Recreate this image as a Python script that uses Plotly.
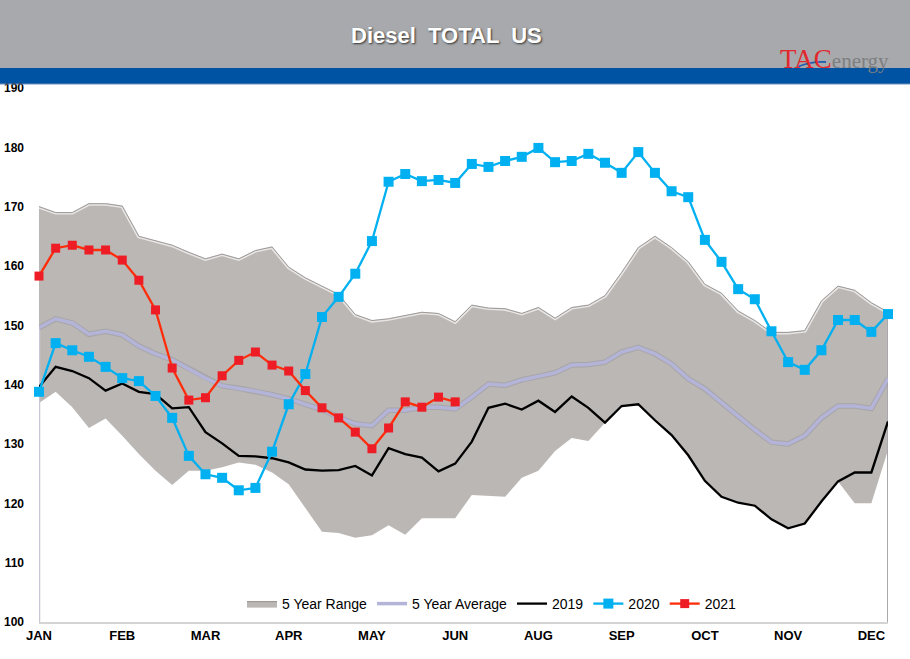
import plotly.graph_objects as go

# ---------------- data ----------------
weeks = list(range(52))
month_ticks = [0, 5, 10, 15, 20, 25, 30, 35, 40, 45, 50]
month_labels = ["JAN", "FEB", "MAR", "APR", "MAY", "JUN", "AUG", "SEP", "OCT", "NOV", "DEC"]
y_ticks = [100, 110, 120, 130, 140, 150, 160, 170, 180, 190]

y2019 = [139.6, 143.0, 142.3, 141.1, 139.0, 140.2, 138.8, 138.4, 136.0, 136.2,
         132.0, 130.1, 128.0, 127.9, 127.6, 126.9, 125.7, 125.5, 125.6, 126.3,
         124.7, 129.3, 128.3, 127.7, 125.4, 126.7, 130.4, 136.1, 136.8, 135.8,
         137.3, 135.4, 138.0, 136.1, 133.6, 136.4, 136.7, 134.0, 131.5, 128.1,
         123.8, 121.1, 120.1, 119.6, 117.3, 115.8, 116.6, 120.3, 123.7, 125.2,
         125.2, 133.8]

y2020 = [138.8, 147.0, 145.8, 144.7, 143.0, 141.1, 140.6, 138.1, 134.4, 128.0,
         124.9, 124.3, 122.2, 122.6, 128.7, 136.7, 141.8, 151.4, 154.8, 158.7,
         164.2, 174.2, 175.5, 174.3, 174.5, 174.0, 177.2, 176.7, 177.7, 178.4,
         179.9, 177.5, 177.7, 178.9, 177.4, 175.7, 179.2, 175.7, 172.6, 171.6,
         164.4, 160.7, 156.1, 154.4, 149.0, 143.8, 142.5, 145.8, 150.9, 150.9,
         148.9, 151.9]

y2021 = [158.3, 163.0, 163.5, 162.7, 162.7, 161.0, 157.6, 152.6, 142.8, 137.4,
         137.8, 141.5, 144.1, 145.5, 143.3, 142.3, 139.0, 136.1, 134.4, 132.0,
         129.2, 132.7, 137.1, 136.2, 137.9, 137.1]

avg5 = [149.6, 151.1, 150.4, 148.5, 149.0, 148.4, 146.5, 145.2, 144.2, 142.7,
        141.1, 139.8, 139.4, 138.9, 138.3, 137.6, 136.7, 135.8, 134.5, 133.4,
        133.1, 135.7, 135.7, 136.2, 136.2, 135.9, 137.9, 140.1, 139.9, 140.8,
        141.4, 142.0, 143.3, 143.4, 143.8, 145.5, 146.3, 145.2, 143.5, 141.0,
        139.3, 137.0, 134.6, 132.4, 130.3, 130.0, 131.4, 134.4, 136.4, 136.4,
        136.0, 141.0]

range_max = [170.0, 169.0, 169.0, 170.5, 170.5, 170.1, 165.0, 164.2, 163.5, 162.3,
             161.2, 162.0, 161.2, 162.6, 163.2, 159.8, 158.0, 156.6, 155.2, 151.8,
             150.8, 151.1, 151.7, 152.2, 152.0, 150.6, 153.4, 152.9, 152.8, 152.0,
             153.0, 151.2, 153.0, 153.4, 155.0, 158.9, 163.1, 165.0, 163.1, 160.7,
             156.9, 155.4, 152.4, 150.8, 148.8, 148.8, 149.1, 154.1, 156.6, 155.9,
             153.8, 152.2]

range_min = [136.9, 138.8, 136.2, 132.7, 134.3, 131.4, 128.3, 125.5, 123.1, 125.5,
             125.5, 126.1, 126.9, 126.5, 125.2, 123.2, 119.2, 115.2, 115.0, 114.2,
             114.6, 116.3, 114.7, 117.5, 117.5, 117.5, 121.4, 121.3, 121.1, 124.3,
             125.5, 128.8, 131.0, 130.5, 133.6, 136.4, 136.7, 134.0, 131.5, 128.1,
             123.8, 121.1, 120.1, 119.6, 117.3, 115.8, 116.6, 120.3, 123.7, 120.0,
             120.0, 129.0]

# ---------------- geometry helpers (pixel -> paper) ----------------
W, H = 910, 659
L, R, T, B = 39, 22, 88, 37
PW, PH = W - L - R, H - T - B


def px_x(p):
    return (p - L) / PW


def px_y(p):
    return (H - B - p) / PH


fig = go.Figure()

# 5 year range (stacked band)
fig.add_trace(go.Scatter(x=weeks, y=range_min, mode="lines", line=dict(width=0, color="rgba(0,0,0,0)"),
                         showlegend=False, hoverinfo="skip"))
fig.add_trace(go.Scatter(x=weeks, y=range_max, mode="lines", fill="tonexty", fillcolor="#bbb7b5",
                         line=dict(width=1.2, color="#9e9a98"), name="5 Year Range"))
fig.add_trace(go.Scatter(x=weeks, y=range_max, mode="lines", line=dict(width=4, color="rgba(255,255,255,0.65)"),
                         showlegend=False, hoverinfo="skip"))
fig.add_trace(go.Scatter(x=weeks, y=range_max, mode="lines", line=dict(width=1, color="#9e9a98"),
                         showlegend=False, hoverinfo="skip"))

# edge lines of the band down to the axis
fig.add_trace(go.Scatter(x=[weeks[0], weeks[0]], y=[avg5[0], y_ticks[0]], mode="lines",
                         line=dict(width=2.5, color="#c6c6d6"), showlegend=False, hoverinfo="skip",
                         cliponaxis=False))
fig.add_trace(go.Scatter(x=[weeks[-1], weeks[-1]], y=[range_max[-1], y_ticks[0]], mode="lines",
                         line=dict(width=2, color="#a9a9ad"), showlegend=False, hoverinfo="skip",
                         cliponaxis=False))

# 5 year average with soft shadow
fig.add_trace(go.Scatter(x=weeks, y=avg5, mode="lines", line=dict(width=5.5, color="rgba(110,110,130,0.25)"),
                         showlegend=False, hoverinfo="skip", cliponaxis=False))
fig.add_trace(go.Scatter(x=weeks, y=avg5, mode="lines", line=dict(width=3.5, color="#b3b4d8"),
                         name="5 Year Average", cliponaxis=False))

fig.add_trace(go.Scatter(x=weeks, y=y2019, mode="lines", line=dict(width=2.3, color="#000000"),
                         name="2019", cliponaxis=False))
fig.add_trace(go.Scatter(x=weeks, y=y2020, mode="lines+markers", line=dict(width=2.3, color="#00b0f0"),
                         marker=dict(symbol="square", size=10, color="#00b0f0"),
                         name="2020", cliponaxis=False))
fig.add_trace(go.Scatter(x=weeks[:len(y2021)], y=y2021, mode="lines+markers",
                         line=dict(width=2.3, color="#ff2d0a"),
                         marker=dict(symbol="square", size=9, color="#ee1c24"),
                         name="2021", cliponaxis=False))

# ---------------- header ----------------
shapes = [
    dict(type="rect", xref="paper", yref="paper", x0=px_x(0), x1=px_x(W), y0=px_y(68), y1=px_y(0),
         fillcolor="#a7a9ac", line=dict(width=0), layer="below"),
    dict(type="rect", xref="paper", yref="paper", x0=px_x(0), x1=px_x(W), y0=px_y(84), y1=px_y(68),
         fillcolor="#0053a2", line=dict(width=0), layer="below"),
    dict(type="line", xref="paper", yref="paper", x0=px_x(0), x1=px_x(W), y0=px_y(84), y1=px_y(84),
         line=dict(width=1, color="#6f8fbf")),
    # logo swoosh
    dict(type="path", xref="paper", yref="paper",
         path="M %f %f Q %f %f %f %f" % (px_x(797), px_y(67), px_x(812), px_y(61), px_x(826), px_y(62)),
         line=dict(width=1.8, color="#1d5fb0")),
]

annotations = [
    dict(text="Diesel  TOTAL  US", xref="paper", yref="paper", x=px_x(446), y=px_y(36),
         xanchor="center", yanchor="middle", showarrow=False,
         font=dict(family="Liberation Sans, Arial, sans-serif", size=22, color="white", weight="bold",
                   shadow="1px 1px 2px rgba(40,40,40,0.9)")),
    dict(text='<span style="color:#e2272d">TAC</span><span style="color:#7d7f82;font-size:21px">energy</span>',
         xref="paper", yref="paper", x=px_x(834), y=px_y(59), xanchor="center", yanchor="middle",
         showarrow=False, font=dict(family="Liberation Serif, Times New Roman, serif", size=27)),
]

fig.update_layout(
    width=W, height=H,
    margin=dict(l=L, r=R, t=T, b=B, autoexpand=False),
    paper_bgcolor="white", plot_bgcolor="white",
    shapes=shapes, annotations=annotations,
    showlegend=True,
    legend=dict(orientation="h", x=px_x(492), y=px_y(604), xanchor="center", yanchor="middle",
                traceorder="normal",
                bgcolor="rgba(0,0,0,0)", font=dict(family="Liberation Sans, Arial, sans-serif", size=14,
                                                   color="#000000"),
                itemwidth=30, tracegroupgap=0),
    xaxis=dict(range=[0, 51], tickmode="array", tickvals=month_ticks, ticktext=month_labels,
               automargin=False,
               showgrid=False, zeroline=False, showline=True, linecolor="#d4d4d4", linewidth=2,
               ticks="", tickfont=dict(family="Liberation Sans Narrow, Arial Narrow, Liberation Sans, sans-serif",
                                        size=13, color="#000000", weight="bold")),
    yaxis=dict(range=[100, 190], tickmode="array", tickvals=y_ticks, showgrid=False, zeroline=False,
               automargin=False,
               showline=False, ticks="", ticklabelstandoff=14,
               tickfont=dict(family="Liberation Sans, Arial, sans-serif", size=12, color="#000000",
                             weight="bold")),
)

fig.write_html("out.html", config={"displayModeBar": False},
               post_script="document.body.style.margin='0';document.body.style.overflow='hidden';")
